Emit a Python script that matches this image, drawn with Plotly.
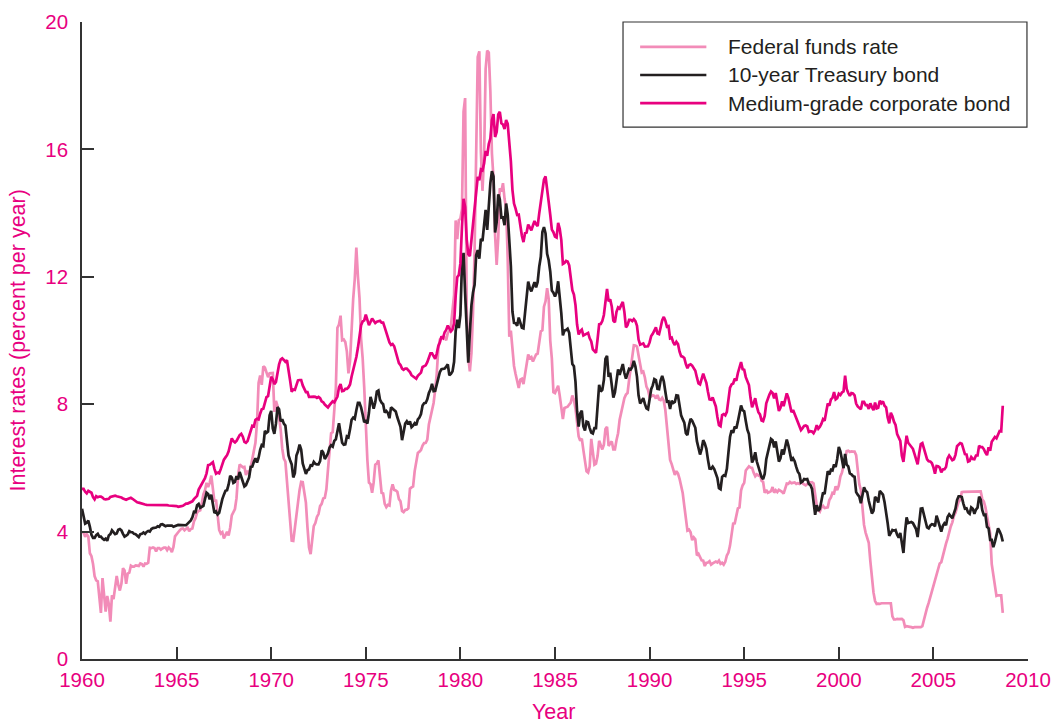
import plotly.graph_objects as go

start_year = 1960

# Monthly values, Jan 1960 .. Sep 2008 (percent per year)
fed_funds = [
    3.99, 3.97, 3.84, 3.92, 3.85, 3.32, 3.23, 2.98, 2.60, 2.47, 2.44, 1.98,
    1.45, 2.54, 2.02, 1.49, 1.98, 1.73, 1.17, 2.00, 1.88, 2.26, 2.61, 2.33,
    2.15, 2.37, 2.85, 2.78, 2.36, 2.68, 2.71, 2.93, 2.90, 2.90, 2.94, 2.93,
    2.92, 3.00, 2.98, 2.90, 3.00, 2.99, 3.02, 3.49, 3.48, 3.50, 3.48, 3.38,
    3.48, 3.48, 3.43, 3.47, 3.50, 3.50, 3.42, 3.50, 3.45, 3.36, 3.52, 3.85,
    3.90, 3.98, 4.04, 4.09, 4.10, 4.04, 4.09, 4.12, 4.01, 4.08, 4.10, 4.32,
    4.42, 4.60, 4.65, 4.67, 4.90, 5.17, 5.30, 5.53, 5.40, 5.53, 5.76, 5.40,
    4.94, 5.00, 4.53, 4.05, 3.94, 3.98, 3.79, 3.90, 3.99, 3.88, 4.13, 4.51,
    4.61, 4.71, 5.05, 5.76, 6.11, 6.07, 6.02, 6.03, 5.78, 5.91, 5.82, 6.02,
    6.30, 6.61, 6.79, 7.41, 8.67, 8.90, 8.61, 9.19, 9.15, 9.00, 8.85, 8.97,
    8.98, 8.98, 7.76, 8.10, 7.94, 7.60, 7.21, 6.61, 6.29, 6.20, 5.60, 4.90,
    4.14, 3.72, 3.71, 4.16, 4.63, 4.91, 5.31, 5.56, 5.55, 5.20, 4.91, 4.14,
    3.50, 3.29, 3.83, 4.17, 4.27, 4.46, 4.55, 4.80, 4.87, 5.04, 5.06, 5.33,
    5.94, 6.58, 7.09, 7.12, 7.84, 8.49, 10.40, 10.50, 10.78, 10.01, 10.03, 9.95,
    9.65, 8.97, 9.35, 10.51, 11.31, 11.93, 12.92, 12.01, 11.34, 10.06, 9.45, 8.53,
    7.13, 6.24, 5.54, 5.49, 5.22, 5.55, 6.10, 6.14, 6.24, 5.82, 5.22, 5.20,
    4.87, 4.77, 4.84, 4.82, 5.29, 5.48, 5.31, 5.29, 5.25, 5.02, 4.95, 4.65,
    4.61, 4.68, 4.69, 4.73, 5.35, 5.39, 5.42, 5.90, 6.14, 6.47, 6.51, 6.56,
    6.70, 6.78, 6.79, 6.89, 7.36, 7.60, 7.81, 8.04, 8.45, 8.96, 9.76, 10.03,
    10.07, 10.06, 10.09, 10.01, 10.24, 10.29, 10.47, 10.94, 11.43, 13.77, 13.18, 13.78,
    13.82, 14.13, 17.19, 17.61, 10.98, 9.47, 9.03, 9.61, 10.87, 12.81, 15.85, 18.90,
    19.08, 15.93, 14.70, 15.72, 18.52, 19.10, 19.04, 17.82, 15.87, 15.08, 13.31, 12.37,
    13.22, 14.78, 14.68, 14.94, 14.45, 14.15, 12.59, 10.12, 10.31, 9.71, 9.20, 8.95,
    8.68, 8.51, 8.77, 8.80, 8.63, 8.98, 9.37, 9.56, 9.45, 9.48, 9.34, 9.47,
    9.56, 9.59, 9.91, 10.29, 10.32, 11.06, 11.23, 11.64, 11.30, 9.99, 9.43, 8.38,
    8.35, 8.50, 8.58, 8.27, 7.97, 7.53, 7.88, 7.90, 7.92, 7.99, 8.05, 8.27,
    8.14, 7.86, 7.48, 6.99, 6.85, 6.92, 6.56, 6.17, 5.89, 5.85, 6.04, 6.91,
    6.43, 6.10, 6.13, 6.37, 6.85, 6.73, 6.58, 6.73, 7.22, 7.29, 6.69, 6.77,
    6.83, 6.58, 6.58, 6.87, 7.09, 7.51, 7.75, 8.01, 8.19, 8.30, 8.35, 8.76,
    9.12, 9.36, 9.85, 9.84, 9.81, 9.53, 9.24, 8.99, 9.02, 8.84, 8.55, 8.45,
    8.23, 8.24, 8.28, 8.26, 8.18, 8.29, 8.15, 8.13, 8.20, 8.11, 7.81, 7.31,
    6.91, 6.25, 6.12, 5.91, 5.78, 5.90, 5.82, 5.66, 5.45, 5.21, 4.81, 4.43,
    4.03, 4.06, 3.98, 3.73, 3.82, 3.76, 3.25, 3.30, 3.22, 3.10, 3.09, 2.92,
    3.02, 3.03, 3.07, 2.96, 3.00, 3.04, 3.06, 3.03, 3.09, 2.99, 3.02, 2.96,
    3.05, 3.25, 3.34, 3.56, 4.01, 4.25, 4.26, 4.47, 4.73, 4.76, 5.29, 5.45,
    5.53, 5.92, 5.98, 6.05, 6.01, 6.00, 5.85, 5.74, 5.80, 5.76, 5.80, 5.60,
    5.56, 5.22, 5.31, 5.22, 5.24, 5.27, 5.40, 5.22, 5.30, 5.24, 5.31, 5.29,
    5.25, 5.19, 5.39, 5.51, 5.50, 5.56, 5.52, 5.54, 5.54, 5.50, 5.52, 5.50,
    5.56, 5.51, 5.49, 5.45, 5.49, 5.56, 5.54, 5.55, 5.51, 5.07, 4.83, 4.68,
    4.63, 4.76, 4.81, 4.74, 4.74, 4.76, 4.99, 5.07, 5.22, 5.20, 5.42, 5.30,
    5.45, 5.73, 5.85, 6.02, 6.27, 6.53, 6.54, 6.50, 6.52, 6.51, 6.51, 6.40,
    5.98, 5.49, 5.31, 4.80, 4.21, 3.97, 3.77, 3.65, 3.07, 2.49, 2.09, 1.82,
    1.73, 1.74, 1.73, 1.75, 1.75, 1.75, 1.73, 1.74, 1.75, 1.75, 1.34, 1.24,
    1.24, 1.26, 1.25, 1.26, 1.26, 1.22, 1.01, 1.03, 1.01, 1.01, 1.00, 0.98,
    1.00, 1.01, 1.00, 1.00, 1.00, 1.03, 1.26, 1.43, 1.61, 1.76, 1.93, 2.16,
    2.28, 2.50, 2.63, 2.79, 3.00, 3.04, 3.26, 3.50, 3.62, 3.78, 4.00, 4.16,
    4.29, 4.49, 4.59, 4.79, 4.94, 4.99, 5.24, 5.25, 5.25, 5.25, 5.25, 5.24,
    5.25, 5.26, 5.26, 5.25, 5.25, 5.25, 5.26, 5.02, 4.94, 4.76, 4.49, 4.24,
    3.94, 2.98, 2.61, 2.28, 1.98, 2.00, 2.01, 2.00, 1.45,
]

treasury_10y = [
    4.72, 4.49, 4.25, 4.28, 4.35, 4.15, 3.90, 3.80, 3.80, 3.89, 3.93, 3.84,
    3.84, 3.78, 3.74, 3.78, 3.71, 3.88, 3.92, 4.04, 3.98, 3.92, 3.94, 4.06,
    4.08, 4.04, 3.93, 3.84, 3.87, 3.91, 4.01, 3.98, 3.98, 3.93, 3.92, 3.86,
    3.83, 3.92, 3.93, 3.97, 3.93, 3.99, 4.02, 4.00, 4.08, 4.11, 4.12, 4.13,
    4.17, 4.15, 4.22, 4.23, 4.20, 4.17, 4.19, 4.19, 4.20, 4.19, 4.15, 4.18,
    4.19, 4.21, 4.21, 4.20, 4.21, 4.21, 4.20, 4.25, 4.29, 4.35, 4.45, 4.62,
    4.61, 4.83, 4.87, 4.75, 4.78, 4.81, 5.02, 5.22, 5.18, 5.01, 5.16, 4.84,
    4.58, 4.63, 4.54, 4.59, 4.85, 5.02, 5.16, 5.28, 5.30, 5.48, 5.75, 5.70,
    5.53, 5.56, 5.74, 5.64, 5.87, 5.72, 5.50, 5.42, 5.46, 5.58, 5.70, 6.03,
    6.04, 6.19, 6.30, 6.17, 6.32, 6.57, 6.72, 6.69, 7.16, 7.10, 7.14, 7.65,
    7.79, 7.24, 7.07, 7.39, 7.91, 7.84, 7.46, 7.53, 7.39, 7.33, 6.84, 6.39,
    6.24, 6.11, 5.70, 5.83, 6.39, 6.52, 6.73, 6.58, 6.14, 5.93, 5.81, 5.93,
    5.95, 6.08, 6.07, 6.19, 6.13, 6.11, 6.11, 6.21, 6.55, 6.48, 6.28, 6.36,
    6.46, 6.64, 6.71, 6.67, 6.85, 6.90, 7.13, 7.40, 7.09, 6.79, 6.73, 6.74,
    6.99, 6.96, 7.21, 7.51, 7.58, 7.54, 7.81, 8.04, 8.04, 7.90, 7.68, 7.43,
    7.50, 7.39, 7.73, 8.23, 8.06, 7.86, 8.06, 8.40, 8.43, 8.14, 8.05, 8.00,
    7.74, 7.79, 7.73, 7.56, 7.90, 7.86, 7.83, 7.77, 7.59, 7.41, 7.29, 6.87,
    7.21, 7.39, 7.46, 7.37, 7.46, 7.28, 7.33, 7.40, 7.34, 7.52, 7.58, 7.69,
    7.96, 8.03, 8.04, 8.15, 8.35, 8.46, 8.64, 8.41, 8.42, 8.64, 8.81, 9.01,
    9.10, 9.10, 9.12, 9.18, 9.25, 8.91, 8.95, 9.03, 9.33, 10.30, 10.65, 10.39,
    10.80, 12.41, 12.75, 11.47, 10.18, 9.30, 10.25, 11.10, 11.51, 11.75, 12.68, 12.84,
    12.57, 13.19, 13.12, 13.68, 14.10, 13.47, 14.28, 14.94, 15.32, 15.15, 13.39, 13.72,
    14.59, 14.43, 13.86, 13.87, 13.62, 14.30, 13.95, 13.06, 12.34, 10.91, 10.55, 10.54,
    10.46, 10.72, 10.51, 10.40, 10.38, 10.85, 11.38, 11.85, 11.65, 11.54, 11.69, 11.83,
    11.67, 11.84, 12.32, 12.63, 13.41, 13.56, 13.36, 12.72, 12.52, 12.16, 11.57, 11.50,
    11.38, 11.51, 11.86, 11.43, 10.85, 10.16, 10.31, 10.33, 10.37, 10.24, 9.78, 9.26,
    9.19, 8.70, 7.78, 7.30, 7.71, 7.80, 7.30, 7.17, 7.45, 7.43, 7.25, 7.11,
    7.08, 7.25, 7.25, 8.02, 8.61, 8.40, 8.45, 8.76, 9.42, 9.52, 8.86, 8.99,
    8.67, 8.21, 8.37, 8.72, 9.09, 8.92, 9.06, 9.26, 8.98, 8.80, 8.96, 9.11,
    9.09, 9.17, 9.36, 9.18, 8.86, 8.28, 8.02, 8.11, 8.19, 8.01, 7.87, 7.84,
    8.21, 8.47, 8.59, 8.79, 8.76, 8.48, 8.47, 8.75, 8.89, 8.72, 8.39, 8.08,
    8.09, 7.85, 8.11, 8.04, 8.07, 8.28, 8.27, 7.90, 7.65, 7.53, 7.42, 7.09,
    7.03, 7.34, 7.54, 7.48, 7.39, 7.26, 6.84, 6.59, 6.42, 6.59, 6.87, 6.77,
    6.60, 6.26, 5.98, 5.97, 6.04, 5.96, 5.81, 5.68, 5.36, 5.33, 5.72, 5.77,
    5.75, 5.97, 6.48, 6.97, 7.18, 7.10, 7.30, 7.24, 7.46, 7.74, 7.96, 7.81,
    7.78, 7.47, 7.20, 7.06, 6.63, 6.17, 6.28, 6.49, 6.20, 6.04, 5.93, 5.71,
    5.65, 5.81, 6.27, 6.51, 6.74, 6.91, 6.87, 6.64, 6.83, 6.53, 6.20, 6.30,
    6.58, 6.42, 6.69, 6.89, 6.71, 6.49, 6.22, 6.30, 6.21, 6.03, 5.88, 5.81,
    5.54, 5.57, 5.65, 5.64, 5.65, 5.50, 5.46, 5.34, 4.81, 4.53, 4.83, 4.65,
    4.72, 5.00, 5.23, 5.18, 5.54, 5.90, 5.79, 5.94, 5.92, 6.11, 6.03, 6.28,
    6.66, 6.52, 6.26, 5.99, 6.44, 6.10, 6.05, 5.83, 5.80, 5.74, 5.72, 5.24,
    5.16, 5.10, 4.89, 5.14, 5.39, 5.28, 5.24, 4.97, 4.73, 4.57, 4.65, 5.09,
    5.04, 4.91, 5.28, 5.21, 5.16, 4.93, 4.65, 4.26, 3.87, 3.94, 4.05, 4.03,
    4.05, 3.90, 3.81, 3.96, 3.57, 3.33, 3.98, 4.45, 4.27, 4.29, 4.30, 4.27,
    4.15, 4.08, 3.83, 4.35, 4.72, 4.73, 4.50, 4.28, 4.13, 4.10, 4.19, 4.23,
    4.22, 4.17, 4.50, 4.34, 4.14, 4.00, 4.18, 4.26, 4.20, 4.46, 4.54, 4.47,
    4.42, 4.57, 4.72, 4.99, 5.11, 5.11, 5.09, 4.88, 4.72, 4.73, 4.60, 4.56,
    4.76, 4.72, 4.56, 4.69, 4.75, 5.10, 5.00, 4.67, 4.52, 4.53, 4.15, 4.10,
    3.74, 3.74, 3.51, 3.68, 3.88, 4.10, 4.01, 3.89, 3.69,
]

corporate_bond = [
    5.34, 5.34, 5.25, 5.20, 5.28, 5.26, 5.22, 5.08, 5.01, 5.11, 5.08, 5.10,
    5.10, 5.07, 5.02, 5.01, 5.01, 5.03, 5.09, 5.11, 5.12, 5.13, 5.11, 5.10,
    5.08, 5.07, 5.04, 5.02, 5.00, 5.02, 5.05, 5.06, 5.03, 4.99, 4.96, 4.92,
    4.91, 4.89, 4.88, 4.87, 4.85, 4.84, 4.84, 4.83, 4.84, 4.83, 4.84, 4.85,
    4.83, 4.83, 4.83, 4.85, 4.85, 4.85, 4.83, 4.82, 4.82, 4.81, 4.81, 4.81,
    4.80, 4.78, 4.78, 4.80, 4.81, 4.85, 4.88, 4.88, 4.91, 4.93, 4.95, 5.02,
    5.06, 5.12, 5.32, 5.41, 5.48, 5.58, 5.68, 5.83, 6.09, 6.10, 6.13, 6.18,
    5.97, 5.82, 5.85, 5.83, 5.96, 6.15, 6.26, 6.33, 6.40, 6.52, 6.72, 6.93,
    6.84, 6.80, 6.85, 6.97, 7.03, 7.07, 6.98, 6.82, 6.79, 6.84, 7.01, 7.23,
    7.32, 7.30, 7.51, 7.54, 7.52, 7.70, 7.84, 7.86, 8.05, 8.22, 8.25, 8.65,
    8.86, 8.78, 8.63, 8.70, 8.98, 9.25, 9.40, 9.44, 9.39, 9.33, 9.38, 9.12,
    8.74, 8.39, 8.46, 8.45, 8.62, 8.75, 8.76, 8.76, 8.59, 8.48, 8.38, 8.38,
    8.23, 8.23, 8.24, 8.24, 8.23, 8.20, 8.23, 8.19, 8.09, 8.06, 7.99, 7.93,
    7.90, 7.97, 8.03, 8.09, 8.06, 8.13, 8.24, 8.53, 8.63, 8.41, 8.42, 8.48,
    8.48, 8.53, 8.62, 8.87, 9.05, 9.27, 9.48, 9.77, 10.18, 10.48, 10.60, 10.63,
    10.81, 10.65, 10.48, 10.58, 10.69, 10.62, 10.55, 10.59, 10.61, 10.62, 10.56, 10.56,
    10.41, 10.24, 10.12, 9.94, 9.86, 9.89, 9.82, 9.64, 9.40, 9.29, 9.23, 9.12,
    9.08, 9.12, 9.12, 9.07, 9.01, 8.91, 8.87, 8.82, 8.80, 8.89, 8.95, 8.99,
    9.17, 9.20, 9.22, 9.32, 9.49, 9.60, 9.60, 9.48, 9.42, 9.59, 9.83, 9.94,
    10.13, 10.08, 10.26, 10.33, 10.47, 10.38, 10.29, 10.35, 10.54, 11.40, 11.99, 12.06,
    12.42, 13.57, 14.45, 14.19, 13.17, 12.71, 12.65, 13.15, 13.70, 14.23, 14.64, 15.14,
    15.03, 15.37, 15.34, 15.56, 15.95, 15.80, 16.17, 16.34, 16.92, 17.11, 16.39, 16.55,
    17.10, 17.18, 16.82, 16.78, 16.64, 16.92, 16.80, 16.32, 15.63, 14.73, 14.30, 14.14,
    13.94, 13.95, 13.61, 13.29, 13.09, 13.37, 13.39, 13.64, 13.55, 13.46, 13.61, 13.75,
    13.65, 13.59, 13.99, 14.31, 14.74, 15.05, 15.15, 14.63, 14.35, 13.94, 13.48, 13.40,
    13.26, 13.23, 13.69, 13.51, 13.15, 12.40, 12.43, 12.50, 12.48, 12.36, 11.99, 11.58,
    11.44, 11.11, 10.50, 10.19, 10.29, 10.34, 10.16, 10.18, 10.20, 10.24, 10.07, 9.97,
    9.72, 9.65, 9.61, 10.04, 10.51, 10.52, 10.61, 10.80, 11.31, 11.62, 11.23, 11.29,
    11.07, 10.62, 10.57, 10.90, 11.04, 11.00, 11.11, 11.21, 10.90, 10.41, 10.48, 10.65,
    10.65, 10.61, 10.67, 10.61, 10.46, 10.03, 9.87, 9.88, 9.91, 9.81, 9.81, 9.82,
    9.94, 10.14, 10.21, 10.30, 10.41, 10.22, 10.20, 10.41, 10.64, 10.74, 10.62, 10.43,
    10.45, 10.07, 10.09, 9.94, 9.86, 9.96, 9.89, 9.65, 9.51, 9.49, 9.45, 9.26,
    9.13, 9.23, 9.25, 9.21, 9.13, 9.05, 8.84, 8.65, 8.62, 8.84, 8.96, 8.81,
    8.67, 8.39, 8.15, 8.14, 8.21, 8.07, 7.93, 7.60, 7.34, 7.31, 7.66, 7.69,
    7.65, 7.76, 8.13, 8.52, 8.62, 8.65, 8.80, 8.74, 8.98, 9.20, 9.32, 9.10,
    9.08, 8.85, 8.70, 8.60, 8.20, 7.90, 8.04, 8.19, 7.93, 7.75, 7.68, 7.49,
    7.47, 7.63, 8.03, 8.19, 8.30, 8.40, 8.35, 8.18, 8.35, 8.07, 7.79, 7.89,
    8.09, 7.94, 8.18, 8.34, 8.20, 8.02, 7.75, 7.82, 7.70, 7.57, 7.42, 7.32,
    7.19, 7.25, 7.32, 7.33, 7.30, 7.13, 7.15, 7.14, 7.09, 7.18, 7.34, 7.23,
    7.29, 7.39, 7.53, 7.48, 7.72, 8.02, 7.95, 8.15, 8.20, 8.38, 8.15, 8.19,
    8.33, 8.29, 8.37, 8.40, 8.90, 8.48, 8.35, 8.26, 8.35, 8.34, 8.28, 8.02,
    7.93, 7.87, 7.84, 8.07, 8.07, 7.97, 7.97, 7.85, 8.03, 7.91, 7.81, 8.05,
    7.87, 7.89, 8.11, 8.03, 8.09, 7.95, 7.90, 7.58, 7.40, 7.73, 7.62, 7.45,
    7.35, 7.06, 6.95, 6.85, 6.38, 6.19, 6.62, 7.01, 6.79, 6.73, 6.66, 6.60,
    6.44, 6.27, 6.11, 6.46, 6.75, 6.78, 6.62, 6.46, 6.27, 6.21, 6.20, 6.15,
    6.02, 5.82, 6.06, 6.05, 6.01, 5.86, 5.95, 5.96, 6.03, 6.30, 6.39, 6.32,
    6.24, 6.27, 6.41, 6.68, 6.75, 6.78, 6.76, 6.59, 6.43, 6.42, 6.20, 6.22,
    6.34, 6.28, 6.27, 6.39, 6.39, 6.70, 6.65, 6.65, 6.59, 6.48, 6.40, 6.65,
    6.54, 6.82, 6.89, 6.97, 6.93, 7.07, 7.16, 7.15, 7.95,
]

series_names = ["Federal funds rate", "10-year Treasury bond", "Medium-grade corporate bond"]
x_tick_values = [1960, 1965, 1970, 1975, 1980, 1985, 1990, 1995, 2000, 2005, 2010]
y_tick_values = [0, 4, 8, 12, 16, 20]

PINK_LIGHT = "#f28cb8"
BLACK = "#231f20"
MAGENTA = "#e8007f"
AXIS = "#333333"
FONT = "Liberation Sans, Arial, Helvetica, sans-serif"


def month_axis(values):
    return [start_year + i / 12 for i in range(len(values))]


fig = go.Figure()
colors = [PINK_LIGHT, BLACK, MAGENTA]
for name, vals, col in zip(series_names, [fed_funds, treasury_10y, corporate_bond], colors):
    fig.add_trace(go.Scatter(
        x=month_axis(vals), y=vals, mode="lines", name=name,
        line=dict(color=col, width=2.7), showlegend=False,
    ))

# Boxed legend drawn as shapes + text (matches the reference's layout)
legend_x0, legend_x1 = 0.5719, 0.9989
legend_y0, legend_y1 = 0.835, 1.0
shapes = [dict(type="rect", xref="paper", yref="paper", x0=legend_x0, x1=legend_x1,
               y0=legend_y0, y1=legend_y1, line=dict(color=AXIS, width=1.2),
               fillcolor="white", layer="above")]
annotations = []
row_y = [0.9608, 0.9168, 0.8728]
for name, col, yy in zip(series_names, colors, row_y):
    shapes.append(dict(type="line", xref="paper", yref="paper", x0=0.590, x1=0.660,
                       y0=yy, y1=yy, line=dict(color=col, width=2.7), layer="above"))
    annotations.append(dict(text=name, xref="paper", yref="paper", x=0.6808, y=yy,
                            xanchor="left", yanchor="middle", showarrow=False,
                            font=dict(family=FONT, size=21, color="#231f20")))

annotations.append(dict(text="Year", xref="paper", yref="paper", x=0.498, y=-0.083,
                        xanchor="center", yanchor="middle", showarrow=False,
                        font=dict(family=FONT, size=21.5, color=MAGENTA)))
annotations.append(dict(text="Interest rates (percent per year)", xref="paper", yref="paper",
                        x=-0.0677, y=0.5, xanchor="center", yanchor="middle",
                        textangle=-90, showarrow=False,
                        font=dict(family=FONT, size=21.5, color=MAGENTA)))

fig.update_layout(
    width=1053, height=723,
    margin=dict(l=82, r=25, t=22, b=64, autoexpand=False),
    paper_bgcolor="white", plot_bgcolor="white",
    font=dict(family=FONT, size=20, color=MAGENTA),
    shapes=shapes, annotations=annotations,
    xaxis=dict(range=[1960, 2010], tickvals=x_tick_values, ticktext=[str(v) for v in x_tick_values],
               showline=True, linecolor=AXIS, linewidth=1.5, ticks="inside", ticklen=12,
               tickwidth=1.5, tickcolor=AXIS, showgrid=False, zeroline=False, automargin=False,
               tickfont=dict(family=FONT, size=20.5, color=MAGENTA), ticklabelstandoff=2),
    yaxis=dict(range=[0, 20], tickvals=y_tick_values, ticktext=[str(v) for v in y_tick_values],
               showline=True, linecolor=AXIS, linewidth=1.5, ticks="inside", ticklen=12,
               tickwidth=1.5, tickcolor=AXIS, showgrid=False, zeroline=False, automargin=False,
               tickfont=dict(family=FONT, size=20.5, color=MAGENTA), ticklabelstandoff=8),
)

fig.write_html("out.html", config={"displayModeBar": False},
               post_script="document.body.style.margin='0';")
